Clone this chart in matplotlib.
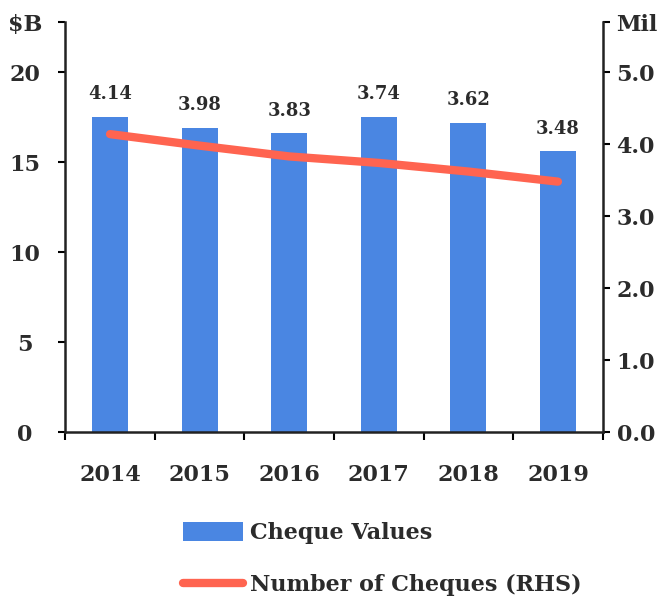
import matplotlib
matplotlib.use("Agg")
import matplotlib.pyplot as plt
from matplotlib.patches import Patch
from matplotlib.lines import Line2D
import numpy as np

years = ["2014", "2015", "2016", "2017", "2018", "2019"]
cheque_values = [17.5, 16.9, 16.6, 17.5, 17.2, 15.6]
num_cheques = [4.14, 3.98, 3.83, 3.74, 3.62, 3.48]
left_ticks = [0, 5, 10, 15, 20]
right_ticks = [0.0, 1.0, 2.0, 3.0, 4.0, 5.0]

plt.rcParams['font.family'] = ['DejaVu Serif']
plt.rcParams['font.weight'] = 'bold'
txt = '#2b2b2b'
blue = '#4a86e2'
red = '#ff6450'

fig = plt.figure(figsize=(6.66, 6.01), dpi=100)
ax = fig.add_axes([0.098, 0.281, 0.807, 0.682])
ax2 = ax.twinx()

x = np.arange(len(years))
ax.bar(x, cheque_values, width=0.4, color=blue, zorder=2)
ax2.plot(x, num_cheques, color=red, lw=6, solid_capstyle='round', zorder=3)

ltop = 20 * 410 / 360
rtop = 5 * 410 / 360
ax.set_ylim(0, ltop)
ax2.set_ylim(0, rtop)
ax.set_xlim(-0.5, len(years) - 0.5)

ax.set_yticks(left_ticks + [ltop])
ax.set_yticklabels([str(t) for t in left_ticks] + ['\\$B'])
ax2.set_yticks(right_ticks + [rtop])
ax2.set_yticklabels([f"{t:.1f}" for t in right_ticks] + ['Mil'])

for lab in ax.get_yticklabels():
    lab.set_horizontalalignment('center')
ax.tick_params(axis='y', direction='out', length=5, width=1.5, pad=24,
               labelsize=16, labelcolor=txt)
ax2.tick_params(axis='y', direction='out', length=5, width=1.5, pad=5,
                labelsize=16, labelcolor=txt)

ax.set_xticks(x)
ax.set_xticklabels(years)
ax.set_xticks(np.arange(-0.5, len(years)), minor=True)
ax.tick_params(axis='x', which='major', length=0, pad=23, labelsize=16, labelcolor=txt)
ax.tick_params(axis='x', which='minor', length=6, width=1.5, direction='out')

for a in (ax, ax2):
    a.spines['top'].set_visible(False)
    for s in ('left', 'right', 'bottom'):
        a.spines[s].set_linewidth(1.8)
        a.spines[s].set_color('#222222')
ax2.spines['left'].set_visible(False)
ax2.spines['bottom'].set_visible(False)
ax.spines['right'].set_visible(False)

for xi, v, n in zip(x, cheque_values, num_cheques):
    ax.annotate(f"{n:.2f}", xy=(xi, v), xytext=(0, 10), textcoords='offset points',
                ha='center', va='bottom', fontsize=13, color=txt, fontweight='bold')

handles = [Patch(facecolor=blue, edgecolor='none'),
           Line2D([0], [0], color=red, lw=6, solid_capstyle='round')]
labels = ["Cheque Values", "Number of Cheques (RHS)"]
fig.legend(handles, labels, loc='upper left', bbox_to_anchor=(0.262, 0.146),
           frameon=False, handlelength=2.7, handleheight=0.9,
           handletextpad=0.3, labelspacing=1.35, labelcolor=txt,
           borderaxespad=0, prop={'weight': 'bold', 'size': 16})

fig.savefig("out.png", dpi=100)
